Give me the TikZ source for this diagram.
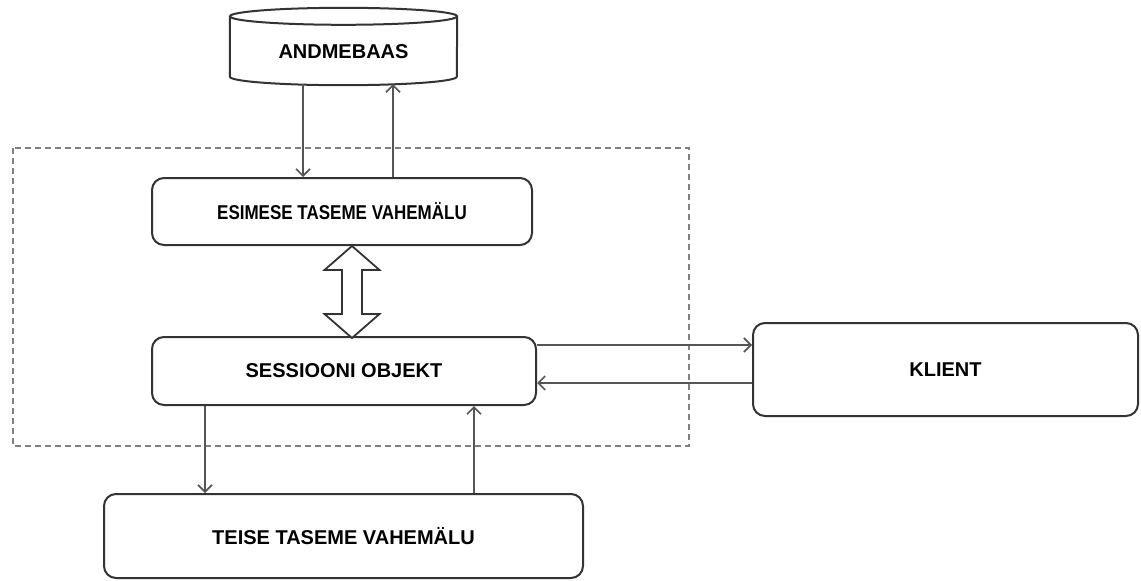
\documentclass[tikz,border=0pt]{standalone}
\usepackage{fontspec}
\setmainfont{Liberation Sans}
\usepackage{xcolor}
\usetikzlibrary{positioning, arrows.meta}

\definecolor{boxgray}{HTML}{333333}
\definecolor{linegray}{HTML}{555555}
\definecolor{dashgray}{HTML}{808080}

\begin{document}
\begin{tikzpicture}[
    x=1pt, y=-1pt,
    box/.style={rectangle, draw=boxgray, line width=2pt, rounded corners=12pt, align=center, font=\fontsize{20}{24}\selectfont\bfseries},
    dbnode/.style={rectangle, minimum width=227pt, minimum height=77pt, inner sep=0pt, yshift=-5pt, font=\fontsize{20}{24}\selectfont\bfseries},
    arrow/.style={-{Straight Barb[length=7pt, width=14pt, line width=1.6pt]}, draw=linegray, line width=1.6pt},
    fat/.style={draw=boxgray, line width=1.8pt, fill=white, line join=miter},
    frame/.style={draw=dashgray, line width=2pt, dash pattern=on 6pt off 4pt}
]
    \fill[white] (0,0) rectangle (1141,581);
    \useasboundingbox (0,0) rectangle (1141,581);

    % Session scope
    \draw[frame] (13,148) rectangle (689,446);

    % Database
    \node[dbnode] (db) at (343.5,46.5) {ANDMEBAAS};
    \draw[draw=boxgray, line width=2pt] ([yshift=-3.5pt]db.north) ellipse [x radius=113.5pt, y radius=8.5pt];
    \draw[draw=boxgray, line width=2pt] ([yshift=-3.5pt]db.north west) -- ([yshift=13.5pt]db.south west)
        arc[start angle=180, end angle=360, x radius=113.5pt, y radius=8.5pt] -- ([yshift=-3.5pt]db.north east);

    % Main components
    \node[box, minimum width=380pt, minimum height=67pt] (firstcache) at (342,211.5) {\scalebox{0.85}[1]{ESIMESE TASEME VAHEMÄLU}};
    \node[box, minimum width=384pt, minimum height=68pt] (session) at (344,371) {SESSIOONI OBJEKT};
    \node[box, minimum width=385pt, minimum height=93pt] (client) at (945.5,369.5) {KLIENT};
    \node[box, minimum width=479pt, minimum height=84pt] (secondcache) at (343.5,536) {TEISE TASEME VAHEMÄLU};

    % Connections
    \draw[arrow] ([xshift=-40.5pt, yshift=6pt]db.south) -- ([xshift=-40.5pt]db.south |- firstcache.north);
    \draw[arrow] ([xshift=49.5pt]db.south |- firstcache.north) -- ([xshift=49.5pt, yshift=6pt]db.south);
    \coordinate (fattip) at ([xshift=10pt]firstcache.south);
    \draw[fat] (fattip) -- ++(27.5,24) -- ++(-17.5,0) -- ++(0,44) -- ++(17.5,0) -- ++(-27.5,24)
        -- ++(-27.5,-24) -- ++(17.5,0) -- ++(0,-44) -- ++(-17.5,0) -- cycle;
    \draw[arrow] ([yshift=26pt]session.east) -- ([yshift=26pt]session.east -| client.west);
    \draw[arrow] ([yshift=-12pt]session.east -| client.west) -- ([yshift=-12pt]session.east);
    \draw[arrow] ([xshift=-139pt]session.south) -- ([xshift=-139pt]session.south |- secondcache.north);
    \draw[arrow] ([xshift=130pt]session.south |- secondcache.north) -- ([xshift=130pt]session.south);

\end{tikzpicture}
\end{document}
